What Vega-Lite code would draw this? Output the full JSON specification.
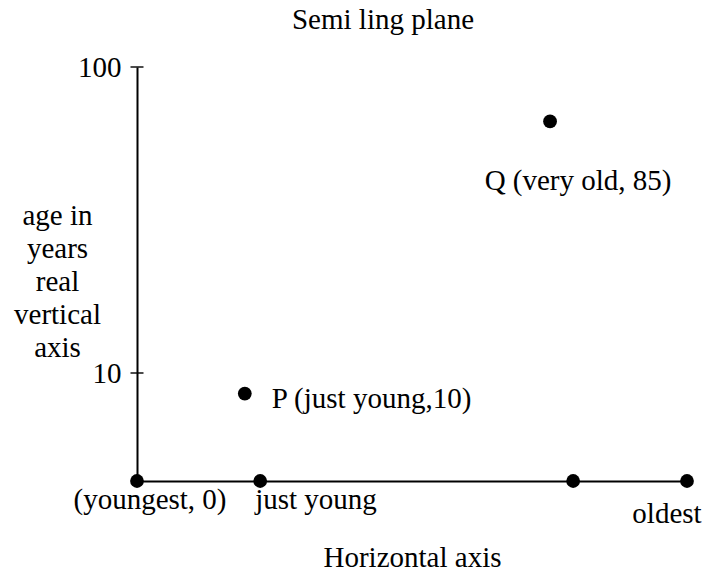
{
  "$schema": "https://vega.github.io/schema/vega-lite/v6.json",
  "width": 550,
  "height": 414,
  "autosize": "none",
  "padding": {"left": 137, "top": 67, "right": 20, "bottom": 95},
  "background": "white",
  "title": {
    "text": "Semi ling plane",
    "font": "Liberation Serif",
    "fontSize": 29,
    "fontWeight": "normal",
    "color": "black",
    "anchor": "middle",
    "dx": -29,
    "baseline": "alphabetic",
    "offset": -5
  },
  "config": {
    "view": {"stroke": null},
    "font": "Liberation Serif",
    "text": {"font": "Liberation Serif", "fontSize": 29, "color": "black"}
  },
  "datasets": {
    "pts": [
      {"name": "youngest", "x": 0, "y": 0, "label": "(youngest, 0)"},
      {"name": "just young", "x": 22.4, "y": 0, "label": "just young"},
      {"name": "P", "x": 19.6, "y": 8.1, "label": "P (just young,10)"},
      {"name": "Q", "x": 75.1, "y": 84, "label": "Q (very old, 85)"},
      {"name": "unnamed", "x": 79.3, "y": 0, "label": ""},
      {"name": "oldest", "x": 100, "y": 0, "label": "oldest"}
    ],
    "ticks": [{"t": 10}, {"t": 100}]
  },
  "layer": [
    {
      "data": {"name": "ticks"},
      "mark": {"type": "tick", "orient": "horizontal", "size": 13, "thickness": 2, "color": "black"},
      "encoding": {
        "x": {"datum": 0, "type": "quantitative", "scale": {"domain": [0, 100]},
              "axis": {"title": "Horizontal axis", "labels": false, "ticks": false, "grid": false,
                       "domainColor": "black", "domainWidth": 2,
                       "titleFont": "Liberation Serif", "titleFontSize": 29, "titleFontWeight": "normal",
                       "titleColor": "black", "titleBaseline": "alphabetic", "titleX": 275, "titleY": 85}},
        "y": {"field": "t", "type": "quantitative",
              "scale": {"domain": [0, 10, 100], "range": [414, 306, 0]},
              "axis": {"values": [10, 100], "ticks": false, "grid": false, "labelPadding": 16,
                       "labelFont": "Liberation Serif", "labelFontSize": 29, "labelColor": "black",
                       "labelBaseline": "middle",
                       "domainColor": "black", "domainWidth": 2,
                       "title": ["age in", "years", "real", "vertical", "axis"],
                       "titleFont": "Liberation Serif", "titleFontSize": 29, "titleFontWeight": "normal",
                       "titleColor": "black", "titleAngle": 0, "titleAlign": "center",
                       "titleBaseline": "middle", "titleLineHeight": 33, "titleX": -80, "titleY": 148}}
      }
    },
    {
      "data": {"name": "pts"},
      "mark": {"type": "circle", "size": 190, "color": "black", "opacity": 1},
      "encoding": {
        "x": {"field": "x", "type": "quantitative"},
        "y": {"field": "y", "type": "quantitative"}
      }
    },
    {
      "data": {"name": "pts"},
      "transform": [{"filter": "datum.name === 'youngest'"}],
      "mark": {"type": "text", "align": "center", "baseline": "alphabetic", "dx": 13, "dy": 28},
      "encoding": {"x": {"field": "x", "type": "quantitative"}, "y": {"field": "y", "type": "quantitative"}, "text": {"field": "label"}}
    },
    {
      "data": {"name": "pts"},
      "transform": [{"filter": "datum.name === 'just young'"}],
      "mark": {"type": "text", "align": "left", "baseline": "alphabetic", "dx": -5, "dy": 28},
      "encoding": {"x": {"field": "x", "type": "quantitative"}, "y": {"field": "y", "type": "quantitative"}, "text": {"field": "label"}}
    },
    {
      "data": {"name": "pts"},
      "transform": [{"filter": "datum.name === 'P'"}],
      "mark": {"type": "text", "align": "left", "baseline": "alphabetic", "dx": 27, "dy": 14},
      "encoding": {"x": {"field": "x", "type": "quantitative"}, "y": {"field": "y", "type": "quantitative"}, "text": {"field": "label"}}
    },
    {
      "data": {"name": "pts"},
      "transform": [{"filter": "datum.name === 'Q'"}],
      "mark": {"type": "text", "align": "center", "baseline": "alphabetic", "dx": 28, "dy": 69},
      "encoding": {"x": {"field": "x", "type": "quantitative"}, "y": {"field": "y", "type": "quantitative"}, "text": {"field": "label"}}
    },
    {
      "data": {"name": "pts"},
      "transform": [{"filter": "datum.name === 'oldest'"}],
      "mark": {"type": "text", "align": "center", "baseline": "alphabetic", "dx": -20, "dy": 42},
      "encoding": {"x": {"field": "x", "type": "quantitative"}, "y": {"field": "y", "type": "quantitative"}, "text": {"field": "label"}}
    }
  ]
}
